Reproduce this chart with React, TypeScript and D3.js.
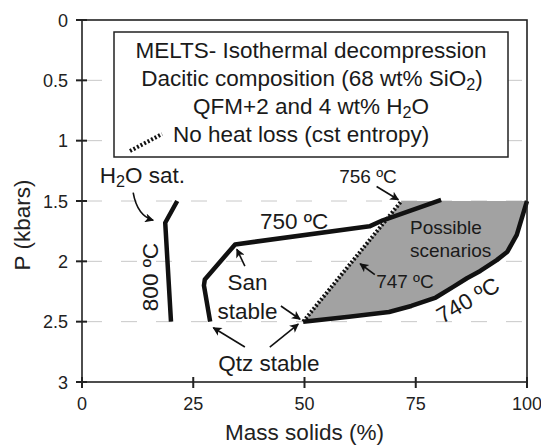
import React from 'react';
import * as d3 from 'd3';

// ---- data: pressure (kbar) vs mass solids (%) along MELTS isotherms ----
const xTicks = [0, 25, 50, 75, 100];
const yTicks = [0, 0.5, 1, 1.5, 2, 2.5, 3];
const yGrid = [0.5, 1, 1.5, 2, 2.5];

const iso800: [number, number][] = [
  [21.4, 1.5], [18.7, 1.68], [20.0, 2.5],
];
const iso750: [number, number][] = [
  [28.8, 2.5], [27.4, 2.2], [27.6, 2.15], [34.4, 1.86], [64.6, 1.71], [67.6, 1.66], [80.7, 1.49],
];
const iso740: [number, number][] = [
  [49.7, 2.5], [60, 2.46], [69, 2.42], [74, 2.37], [79.5, 2.3], [83.5, 2.21], [86.5, 2.14],
  [89.5, 2.08], [93.2, 1.99], [95.6, 1.92], [97.7, 1.78], [100, 1.5],
];
// constant-entropy (no heat loss) path, 747 -> 756 ºC
const isentrope: [number, number][] = [[49.7, 2.5], [71.8, 1.5]];

const legendLines = [
  'MELTS- Isothermal decompression',
  'Dacitic composition (68 wt% SiO2)',
  'QFM+2 and 4 wt% H2O',
  'No heat loss (cst entropy)',
];

const W = 541;
const H = 446;
const FONT = '"Liberation Sans", Arial, Helvetica, sans-serif';
const INK = '#111';

export default function App() {
  const x = d3.scaleLinear().domain([0, 100]).range([82, 527]);
  const y = d3.scaleLinear().domain([0, 3]).range([20, 382]);
  const [x0, x1] = x.range();
  const [y0, y1] = y.range();

  const line = d3
    .line<[number, number]>()
    .x((d) => x(d[0]))
    .y((d) => y(d[1]));

  const region = [...isentrope, ...iso740.slice().reverse()];

  const arrow = (from: [number, number], to: [number, number], ctrl?: [number, number]) => {
    const [fx, fy] = [x(from[0]), y(from[1])];
    const [tx, ty] = [x(to[0]), y(to[1])];
    const d = ctrl
      ? `M${fx},${fy}Q${x(ctrl[0])},${y(ctrl[1])} ${tx},${ty}`
      : `M${fx},${fy}L${tx},${ty}`;
    return <path d={d} fill="none" stroke={INK} strokeWidth={1.6} markerEnd="url(#head)" />;
  };

  const sub = (base: string, s: string, rest: string) => (
    <>
      {base}
      <tspan fontSize="0.72em" dy={4}>{s}</tspan>
      <tspan dy={-4}>{rest}</tspan>
    </>
  );

  return (
    <svg
      width={W}
      height={H}
      style={{ position: 'absolute', left: 0, top: 0, background: '#fff' }}
      fontFamily={FONT}
    >
      <defs>
        <marker id="head" viewBox="0 0 10 10" refX={9} refY={5} markerWidth={10} markerHeight={9} orient="auto" markerUnits="userSpaceOnUse">
          <path d="M0,0L10,5L0,10L2.5,5Z" fill={INK} />
        </marker>
      </defs>

      {/* dashed grid */}
      {yGrid.map((v) => (
        <line key={v} x1={x0 + 4} x2={x1} y1={y(v)} y2={y(v)} stroke="#c8c8c8" strokeWidth={1} strokeDasharray="16,19" />
      ))}

      {/* shaded field of possible scenarios */}
      <path d={line(region) + 'Z'} fill="#a2a2a2" stroke="none" />

      {/* isotherms */}
      <path d={line(iso800) ?? ''} fill="none" stroke={INK} strokeWidth={4.5} strokeLinejoin="round" />
      <path d={line(iso750) ?? ''} fill="none" stroke={INK} strokeWidth={4.5} strokeLinejoin="round" />
      <path d={line(iso740) ?? ''} fill="none" stroke={INK} strokeWidth={4.5} strokeLinejoin="round" />
      <path d={line(isentrope) ?? ''} fill="none" stroke={INK} strokeWidth={4} strokeDasharray="2,2" />

      {/* annotations */}
      <g fill="#1a1a1a" fontSize={22.5}>
        <text x={x(4.0)} y={y(1.35)}>{sub('H', '2', 'O sat.')}</text>
        <text transform={`translate(${x(17.1)},${y(2.13)}) rotate(-90)`} textAnchor="middle">800 ºC</text>
        <text x={x(40)} y={y(1.73)}>750 ºC</text>
        <text transform={`translate(${x(86.7)},${y(2.32)}) rotate(-30)`} textAnchor="middle" dy={8}>740 ºC</text>
        <text x={x(37.2)} y={y(2.24)} textAnchor="middle">San</text>
        <text x={x(37.2)} y={y(2.48)} textAnchor="middle">stable</text>
        <text x={x(42)} y={y(2.91)} textAnchor="middle">Qtz stable</text>
      </g>
      <g fill="#1a1a1a" fontSize={19}>
        <text x={x(57.8)} y={y(1.35)}>756 ºC</text>
        <text x={x(66.1)} y={y(2.22)}>747 ºC</text>
        <text x={x(73.7)} y={y(1.77)}>Possible</text>
        <text x={x(73.7)} y={y(1.96)}>scenarios</text>
      </g>

      {arrow([11.5, 1.43], [16.0, 1.66], [12.4, 1.62])}
      {arrow([66.2, 1.38], [71.1, 1.49])}
      {arrow([65.8, 2.11], [62.5, 2.02])}
      {arrow([36.6, 2.04], [34.8, 1.9])}
      {arrow([44.7, 2.37], [49.0, 2.48])}
      {arrow([36.6, 2.71], [29.5, 2.55])}
      {arrow([42.2, 2.71], [48.6, 2.52])}

      {/* legend */}
      <g>
        <rect x={114} y={32} width={394} height={125} fill="#fff" stroke="#222" strokeWidth={1.5} />
        <g fontSize={22.5} fill="#1a1a1a" textAnchor="middle">
          <text x={311} y={58}>{legendLines[0]}</text>
          <text x={312} y={86}>
            {legendLines[1].replace('SiO2)', '')}SiO
            <tspan fontSize="0.72em" dy={4}>2</tspan>
            <tspan dy={-4}>)</tspan>
          </text>
          <text x={311} y={114}>
            {legendLines[2].replace('H2O', '')}H
            <tspan fontSize="0.72em" dy={4}>2</tspan>
            <tspan dy={-4}>O</tspan>
          </text>
          <text x={306} y={142} textAnchor="start" dx={-133}>{legendLines[3]}</text>
        </g>
        <line x1={130} y1={151} x2={162} y2={134} stroke={INK} strokeWidth={4} strokeDasharray="2,2" />
      </g>

      {/* frame and axes */}
      <rect x={x0} y={y0} width={x1 - x0} height={y1 - y0} fill="none" stroke="#222" strokeWidth={1.6} />
      {yTicks.map((v) => (
        <g key={v}>
          <line x1={x0 - 6} x2={x0 + 5} y1={y(v)} y2={y(v)} stroke="#222" strokeWidth={2} />
          <text x={x0 - 14} y={y(v) + 6.5} textAnchor="end" fontSize={18} fill="#222">{v}</text>
        </g>
      ))}
      {xTicks.map((v) => (
        <g key={v}>
          <line x1={x(v)} x2={x(v)} y1={y1 - 5} y2={y1 + 6} stroke="#222" strokeWidth={2} />
          <text x={x(v)} y={y1 + 28} textAnchor="middle" fontSize={18} fill="#222">{v}</text>
        </g>
      ))}
      <text x={(x0 + x1) / 2} y={440} textAnchor="middle" fontSize={22.5} fill="#222">Mass solids (%)</text>
      <text transform={`translate(30,225) rotate(-90)`} textAnchor="middle" fontSize={22.5} fill="#222">P (kbars)</text>
    </svg>
  );
}
